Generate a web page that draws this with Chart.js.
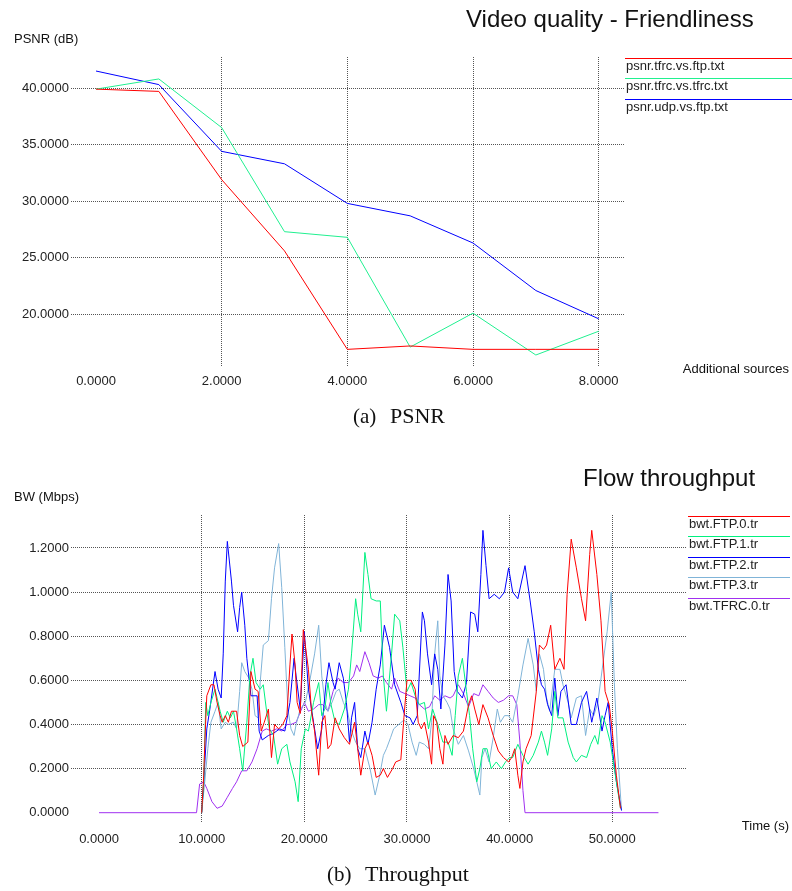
<!DOCTYPE html>
<html>
<head>
<meta charset="utf-8">
<script src="https://cdn.jsdelivr.net/npm/chart.js@4/dist/chart.umd.min.js"></script>
<style>
  body { margin: 0; background: #fff; width: 792px; height: 891px; position: relative; overflow: hidden; }
  canvas { position: absolute; left: 0; }
  #psnr { top: 0; }
  #bw { top: 440px; }
</style>
</head>
<body>
<canvas id="psnr" width="792" height="440"></canvas>
<canvas id="bw" width="792" height="451"></canvas>
<script>
// (a) PSNR vs number of additional sources
const sources = [0, 1, 2, 3, 4, 5, 6, 7, 8];
const psnrTfrcVsFtp = [39.9, 39.7, 31.9, 25.6, 16.9, 17.2, 16.9, 16.9, 16.9];
const psnrTfrcVsTfrc = [39.9, 40.8, 36.5, 27.3, 26.8, 17.1, 20.1, 16.4, 18.5];
const psnrUdpVsFtp = [41.5, 40.3, 34.4, 33.3, 29.8, 28.7, 26.3, 22.1, 19.6];
const psnrXTicks = [0, 2, 4, 6, 8];
const psnrYTicks = [20, 25, 30, 35, 40];

// (b) throughput, [time (s), Mbps]
const ftp0 = [[10,0],[10.2,0.17],[10.35,0.37],[10.5,0.53],[10.9,0.58],[11.2,0.58],[11.5,0.5],[11.8,0.44],[12,0.41],[12.3,0.44],[12.6,0.41],[12.9,0.46],[13.4,0.46],[13.7,0.35],[14,0.3],[14.5,0.32],[14.8,0.64],[15.2,0.56],[15.5,0.55],[15.8,0.37],[16.1,0.41],[16.5,0.47],[16.8,0.25],[17.1,0.4],[17.5,0.38],[17.9,0.4],[18.3,0.44],[18.6,0.67],[18.8,0.81],[19.1,0.67],[19.3,0.5],[19.6,0.45],[19.9,0.83],[20.4,0.65],[20.7,0.46],[21,0.37],[21.4,0.17],[21.7,0.41],[22,0.44],[22.3,0.29],[22.6,0.31],[23,0.43],[23.4,0.38],[23.9,0.34],[24.4,0.31],[24.9,0.41],[25.2,0.29],[25.5,0.17],[25.9,0.29],[26.2,0.32],[26.6,0.26],[27,0.16],[27.4,0.17],[27.7,0.2],[28.1,0.16],[28.6,0.2],[28.9,0.23],[29.4,0.24],[29.7,0.43],[30,0.6],[30.4,0.6],[30.8,0.56],[31.1,0.41],[31.4,0.38],[31.7,0.41],[32.1,0.32],[32.4,0.22],[32.6,0.44],[32.9,0.41],[33.2,0.29],[33.5,0.22],[33.7,0.35],[34,0.31],[34.5,0.35],[35,0.34],[35.5,0.37],[36,0.49],[36.3,0.53],[36.6,0.47],[37,0.4],[37.4,0.49],[37.9,0.43],[38.4,0.35],[38.9,0.28],[39.4,0.25],[39.9,0.23],[40.2,0.25],[40.5,0.29],[40.8,0.17],[41,0.11],[41.3,0.23],[41.6,0.29],[42.1,0.35],[42.6,0.55],[42.9,0.76],[43.3,0.74],[43.6,0.76],[44,0.85],[44.4,0.65],[44.9,0.7],[45.3,0.65],[45.6,0.99],[46,1.24],[46.5,1.11],[47,0.97],[47.4,0.87],[47.8,1.17],[48,1.28],[48.5,1.08],[48.9,0.87],[49.3,0.55],[49.7,0.49],[50,0.37],[50.4,0.17],[50.8,0.02]];
const ftp1 = [[10,0],[10.2,0.14],[10.4,0.5],[10.6,0.44],[10.9,0.5],[11.3,0.56],[11.8,0.46],[12.1,0.41],[12.5,0.46],[12.8,0.43],[13.1,0.46],[13.4,0.38],[13.7,0.29],[14,0.19],[14.4,0.41],[14.7,0.62],[15,0.7],[15.3,0.59],[15.7,0.56],[16,0.58],[16.3,0.47],[16.6,0.38],[17,0.35],[17.4,0.22],[17.8,0.29],[18.3,0.31],[18.6,0.23],[19.1,0.14],[19.4,0.05],[19.7,0.29],[20.1,0.38],[20.4,0.37],[20.9,0.5],[21.4,0.59],[21.7,0.44],[22,0.47],[22.3,0.59],[22.6,0.49],[23,0.41],[23.4,0.4],[23.9,0.47],[24.3,0.56],[24.6,0.72],[25,0.97],[25.2,0.9],[25.5,0.82],[25.7,1.0],[25.9,1.18],[26.2,1.08],[26.5,0.97],[27,0.96],[27.4,0.96],[27.7,0.62],[28,0.46],[28.5,0.72],[28.8,0.9],[29.3,0.87],[29.6,0.75],[30,0.55],[30.4,0.59],[30.8,0.53],[31.2,0.49],[31.7,0.5],[32.1,0.38],[32.5,0.47],[33,0.4],[33.5,0.32],[34,0.32],[34.4,0.26],[34.7,0.44],[35,0.62],[35.4,0.7],[35.8,0.55],[36.1,0.44],[36.4,0.29],[36.8,0.14],[37.1,0.2],[37.4,0.29],[37.8,0.29],[38.2,0.2],[38.7,0.23],[39.2,0.2],[39.6,0.23],[40,0.25],[40.3,0.25],[40.8,0.31],[41.3,0.26],[41.8,0.22],[42.3,0.26],[42.8,0.32],[43.1,0.37],[43.4,0.32],[43.7,0.26],[44.1,0.38],[44.4,0.55],[44.7,0.43],[45.2,0.43],[45.7,0.32],[46.2,0.25],[46.5,0.23],[47,0.26],[47.5,0.25],[47.9,0.31],[48.3,0.35],[48.6,0.31],[49,0.44],[49.3,0.41],[49.8,0.32],[50.3,0.17],[50.8,0.02]];
const ftp2 = [[10,0],[10.2,0.14],[10.5,0.38],[10.8,0.47],[11.3,0.64],[11.6,0.56],[11.9,0.52],[12.1,0.72],[12.3,1.05],[12.5,1.23],[12.9,1.05],[13.1,0.94],[13.5,0.82],[13.7,0.93],[13.9,1.0],[14.2,0.85],[14.4,0.7],[14.8,0.53],[15.4,0.53],[15.6,0.37],[15.9,0.33],[16.5,0.35],[17,0.36],[17.6,0.38],[18.1,0.37],[18.6,0.5],[19,0.7],[19.2,0.62],[19.6,0.47],[20,0.82],[20.4,0.56],[20.9,0.41],[21.3,0.29],[21.7,0.38],[22.1,0.58],[22.4,0.68],[22.8,0.59],[23,0.56],[23.4,0.68],[23.8,0.61],[24.1,0.5],[24.4,0.32],[24.6,0.43],[24.9,0.5],[25.2,0.29],[25.5,0.25],[25.9,0.37],[26.2,0.31],[26.6,0.41],[27,0.56],[27.4,0.67],[27.8,0.85],[28.3,0.75],[28.8,0.58],[29.4,0.5],[29.8,0.44],[30.3,0.43],[30.6,0.4],[31,0.44],[31.5,0.91],[31.7,0.87],[32,0.72],[32.4,0.58],[32.7,0.72],[33,0.65],[33.3,0.47],[33.7,0.76],[34,1.08],[34.3,0.96],[34.6,0.64],[34.9,0.55],[35.4,0.52],[35.8,0.59],[36.2,0.91],[36.6,0.9],[36.9,0.82],[37.2,1.08],[37.4,1.28],[37.7,1.12],[38,0.97],[38.5,0.99],[39,0.97],[39.5,1.0],[39.9,1.11],[40.3,1.0],[40.8,0.97],[41.5,1.12],[42,0.96],[42.4,0.82],[42.8,0.65],[43.1,0.58],[43.4,0.56],[43.7,0.49],[44.1,0.44],[44.4,0.61],[44.7,0.44],[45,0.55],[45.5,0.58],[46,0.4],[46.5,0.4],[47,0.5],[47.5,0.55],[48,0.41],[48.5,0.52],[49,0.37],[49.3,0.44],[49.6,0.5],[50,0.29],[50.4,0.14],[50.9,0.01]];
const ftp3 = [[10,0],[10.3,0.14],[10.6,0.29],[10.9,0.41],[11.3,0.46],[11.6,0.5],[11.9,0.38],[12.3,0.41],[12.6,0.4],[13.1,0.41],[13.4,0.38],[13.7,0.55],[13.9,0.68],[14.2,0.64],[14.6,0.61],[14.9,0.56],[15.2,0.44],[15.5,0.43],[15.7,0.59],[16,0.76],[16.5,0.78],[16.8,0.97],[17.1,1.11],[17.5,1.22],[17.8,1.02],[18.1,0.75],[18.4,0.47],[18.7,0.38],[19,0.35],[19.2,0.4],[19.6,0.47],[20.1,0.5],[20.5,0.59],[21,0.72],[21.4,0.85],[21.7,0.62],[22,0.5],[22.3,0.46],[22.7,0.5],[23.1,0.55],[23.4,0.56],[23.8,0.5],[24.2,0.46],[24.6,0.37],[25,0.32],[25.4,0.29],[25.9,0.29],[26.4,0.2],[26.9,0.08],[27.3,0.16],[27.7,0.26],[28,0.29],[28.4,0.34],[28.7,0.38],[29.2,0.4],[29.7,0.42],[30.1,0.4],[30.5,0.32],[30.9,0.26],[31.2,0.32],[31.7,0.31],[32.1,0.29],[32.4,0.41],[32.7,0.72],[33,0.87],[33.2,0.62],[33.5,0.53],[33.9,0.5],[34.2,0.47],[34.5,0.38],[35,0.31],[35.5,0.35],[36,0.28],[36.5,0.2],[36.8,0.14],[37.1,0.08],[37.3,0.25],[37.6,0.29],[38,0.23],[38.4,0.34],[38.8,0.47],[39.1,0.41],[39.5,0.44],[39.9,0.44],[40.3,0.41],[40.8,0.53],[41.3,0.67],[41.8,0.79],[42.3,0.67],[42.6,0.55],[42.9,0.72],[43.3,0.65],[43.6,0.52],[43.9,0.46],[44.4,0.65],[44.9,0.65],[45.2,0.58],[45.7,0.5],[46,0.43],[46.5,0.52],[47,0.53],[47.4,0.35],[47.8,0.47],[48.2,0.44],[48.6,0.5],[49.1,0.68],[49.5,0.82],[49.9,1.0],[50.2,0.59],[50.5,0.29],[50.9,0.01]];
const tfrc0 = [[0,0],[9.5,0],[9.8,0.13],[10.2,0.14],[10.5,0.11],[11,0.05],[11.5,0.02],[12,0.03],[12.5,0.07],[13,0.11],[13.4,0.14],[13.9,0.19],[14.4,0.19],[14.9,0.23],[15.4,0.29],[15.9,0.37],[16.3,0.38],[16.8,0.37],[17.3,0.38],[17.8,0.37],[18.3,0.4],[18.7,0.4],[19.2,0.41],[20,0.5],[20.4,0.46],[20.9,0.47],[21.4,0.49],[21.8,0.49],[22.3,0.46],[22.8,0.55],[23.3,0.61],[23.8,0.59],[24.3,0.59],[24.8,0.62],[25.1,0.67],[25.4,0.64],[25.9,0.73],[26.3,0.68],[26.7,0.62],[27.2,0.61],[27.6,0.62],[28,0.59],[28.5,0.56],[28.8,0.61],[29.3,0.55],[29.8,0.54],[30.3,0.53],[30.8,0.52],[31.2,0.49],[31.7,0.47],[32.2,0.48],[32.7,0.53],[33.2,0.51],[33.7,0.53],[34.2,0.52],[34.5,0.53],[35,0.58],[35.5,0.54],[36,0.48],[36.5,0.54],[37,0.53],[37.4,0.58],[37.9,0.55],[38.4,0.52],[38.9,0.5],[39.4,0.51],[39.9,0.53],[40.3,0.53],[40.7,0.49],[41,0.32],[41.3,0.1],[41.5,0],[54.5,0]];
const bwXTicks = [0, 10, 20, 30, 40, 50];
const bwYTicks = [0, 0.2, 0.4, 0.6, 0.8, 1.0, 1.2];

Chart.defaults.font.family = '"Liberation Sans", Arial, sans-serif';
Chart.defaults.font.size = 13;
Chart.defaults.color = '#222';

const SANS = '"Liberation Sans", Arial, sans-serif';
const SERIF = '"Liberation Serif", "Times New Roman", serif';

// free text (titles, axis names, captions)
function textLayer(items) {
  return {
    id: 'textLayer',
    afterDraw(chart) {
      const ctx = chart.ctx;
      ctx.save();
      ctx.textBaseline = 'alphabetic';
      ctx.fillStyle = '#111';
      items.forEach(it => {
        ctx.font = it.font;
        ctx.textAlign = it.align || 'left';
        ctx.fillText(it.text, it.x, it.y);
      });
      ctx.restore();
    }
  };
}

// xgraph style legend: coloured rule above each name
function legendLayer(left, right, top, step) {
  return {
    id: 'legendLayer',
    afterDraw(chart) {
      const ctx = chart.ctx;
      ctx.save();
      ctx.font = '13px ' + SANS;
      ctx.textBaseline = 'alphabetic';
      chart.data.datasets.forEach((ds, i) => {
        const y = Math.round(top + i * step) + 0.5;
        ctx.strokeStyle = ds.borderColor;
        ctx.lineWidth = 1;
        ctx.beginPath();
        ctx.moveTo(left, y);
        ctx.lineTo(right, y);
        ctx.stroke();
        ctx.fillStyle = '#222';
        ctx.fillText(ds.label, left + 1, y + 11.5);
      });
      ctx.restore();
    }
  };
}

function series(label, color, pts) {
  return {
    label: label,
    data: pts,
    borderColor: color,
    backgroundColor: color,
    borderWidth: 1,
    pointRadius: 0,
    tension: 0,
    fill: false
  };
}

const gridColor = c => (c.tick && c.tick.value === 0) ? 'rgba(0,0,0,0)' : '#555';

function axes(xr, yr, xTicks, yTicks, xHeight, xPad, hideY0) {
  return {
    x: {
      type: 'linear', min: xr[0], max: xr[1],
      afterBuildTicks: s => { s.ticks = xTicks.map(v => ({ value: v })); },
      afterFit: s => { s.height = xHeight; },
      border: { display: false, dash: [1, 1] },
      grid: { color: gridColor, drawTicks: false, lineWidth: 1 },
      ticks: { callback: v => Number(v).toFixed(4), padding: xPad, maxRotation: 0, autoSkip: false, color: '#222' }
    },
    y: {
      type: 'linear', min: yr[0], max: yr[1],
      afterBuildTicks: s => { s.ticks = yTicks.map(v => ({ value: v })); },
      afterFit: s => { s.width = 71; },
      border: { display: false, dash: [1, 1] },
      grid: { color: hideY0 ? gridColor : '#555', drawTicks: false, lineWidth: 1 },
      ticks: { callback: v => Number(v).toFixed(4), padding: 2, autoSkip: false, color: '#222' }
    }
  };
}

// Gráfico (a): PSNR
new Chart(document.getElementById('psnr'), {
  type: 'line',
  data: {
    labels: sources,
    datasets: [
      series('psnr.tfrc.vs.ftp.txt', '#ff0000', sources.map((s, i) => ({ x: s, y: psnrTfrcVsFtp[i] }))),
      series('psnr.tfrc.vs.tfrc.txt', '#20f090', sources.map((s, i) => ({ x: s, y: psnrTfrcVsTfrc[i] }))),
      series('psnr.udp.vs.ftp.txt', '#0000ff', sources.map((s, i) => ({ x: s, y: psnrUdpVsFtp[i] })))
    ]
  },
  options: {
    responsive: false,
    animation: false,
    layout: { padding: { left: 0, top: 57, right: 167, bottom: 48 } },
    plugins: { legend: { display: false }, tooltip: { enabled: false } },
    scales: axes([-0.398, 8.419], [15.34, 42.74], psnrXTicks, psnrYTicks, 25, 7, false)
  },
  plugins: [
    legendLayer(625, 792, 57.5, 20.5),
    textLayer([
      { text: 'Video quality - Friendliness', x: 466, y: 27, font: '24px ' + SANS },
      { text: 'PSNR (dB)', x: 14, y: 42.5, font: '13px ' + SANS },
      { text: 'Additional sources', x: 789, y: 373, align: 'right', font: '13px ' + SANS },
      { text: '(a)', x: 353, y: 423, font: '21px ' + SERIF },
      { text: 'PSNR', x: 390, y: 423, font: '22px ' + SERIF }
    ])
  ]
});

// Gráfico (b): throughput
const toXY = pts => pts.map(p => ({ x: p[0], y: p[1] }));
new Chart(document.getElementById('bw'), {
  type: 'line',
  data: {
    datasets: [
      series('bwt.FTP.0.tr', '#ff0000', toXY(ftp0)),
      series('bwt.FTP.1.tr', '#00f080', toXY(ftp1)),
      series('bwt.FTP.2.tr', '#0000ff', toXY(ftp2)),
      series('bwt.FTP.3.tr', '#80b4d8', toXY(ftp3)),
      series('bwt.TFRC.0.tr', '#a030f0', toXY(tfrc0))
    ]
  },
  options: {
    responsive: false,
    animation: false,
    layout: { padding: { left: 0, top: 75, right: 105, bottom: 38 } },
    plugins: { legend: { display: false }, tooltip: { enabled: false } },
    scales: axes([-2.73, 57.28], [-0.0467, 1.3496], bwXTicks, bwYTicks, 30, 9, true)
  },
  plugins: [
    legendLayer(688, 790, 75.7, 20.5),
    textLayer([
      { text: 'Flow throughput', x: 583, y: 45.5, font: '24px ' + SANS },
      { text: 'BW (Mbps)', x: 14, y: 60.5, font: '13px ' + SANS },
      { text: 'Time (s)', x: 789, y: 390, align: 'right', font: '13px ' + SANS },
      { text: '(b)', x: 327, y: 441, font: '21px ' + SERIF },
      { text: 'Throughput', x: 365, y: 441, font: '22px ' + SERIF }
    ])
  ]
});
</script>
</body>
</html>
